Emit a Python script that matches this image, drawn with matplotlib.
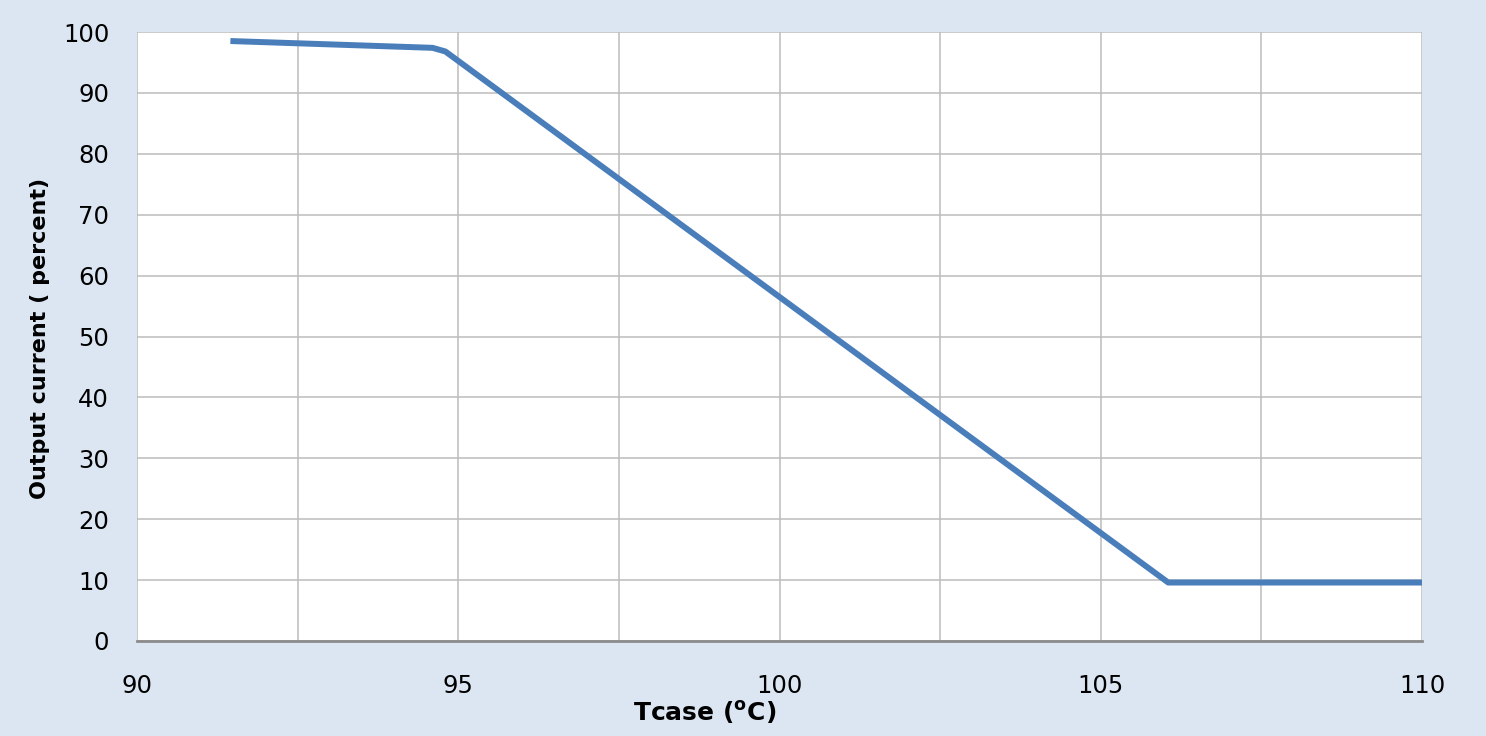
import numpy as np
import matplotlib.pyplot as plt

# derating curve
tcase = [91.5, 94.6, 94.8, 106.05, 110.0]
current = [98.5, 97.4, 96.8, 9.6, 9.6]

x_ticks = [90, 95, 100, 105, 110]
x_grid = np.arange(90, 110.1, 2.5)
y_ticks = list(range(0, 101, 10))

bg = '#dce6f2'
fig = plt.figure(figsize=(14.86, 7.36), dpi=100, facecolor=bg)
ax = fig.add_axes([137/1486, 95/736, (1422-137)/1486, (641-32)/736])
ax.set_facecolor('white')

ax.plot(tcase, current, color='#4a7ebb', lw=4.3, solid_joinstyle='round', zorder=3)

ax.set_xlim(90, 110)
ax.set_ylim(0, 100)
ax.set_xticks(x_grid)
ax.set_xticklabels([str(int(v)) if v in x_ticks else '' for v in x_grid])
ax.set_yticks(y_ticks)
ax.grid(True, color='#bcbcbc', lw=1.1)
ax.tick_params(axis='y', length=0, labelsize=17.5, pad=20)
ax.tick_params(axis='x', length=0, labelsize=17.5, pad=24)
for s in ['top', 'right', 'left']:
    ax.spines[s].set_visible(False)
ax.spines['bottom'].set_color('#8c8c8c')
ax.spines['bottom'].set_linewidth(2)

fig.text(40/1486, 1 - 338/736, 'Output current ( percent)', rotation=90,
         ha='center', va='center', fontsize=16, fontweight='bold')
fig.text(705/1486, 1 - 712/736, r'Tcase ($^\mathbf{o}$C)', ha='center', va='center',
         fontsize=18, fontweight='bold')

fig.savefig('out.png', dpi=100, facecolor=bg)
